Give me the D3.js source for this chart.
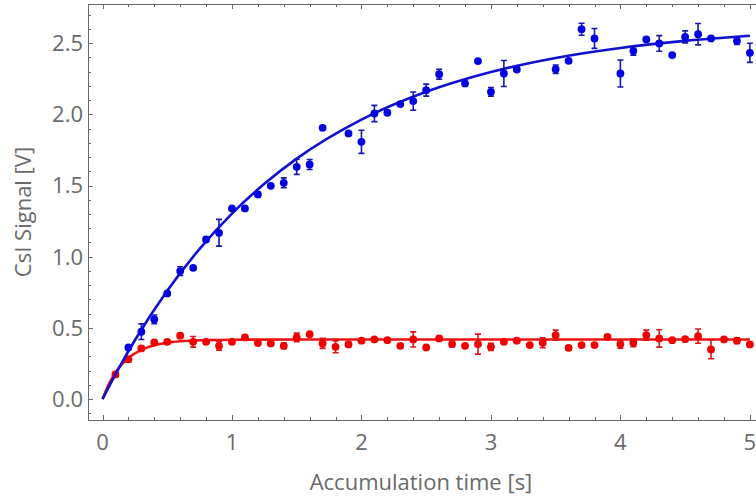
<!DOCTYPE html>
<html><head><meta charset="utf-8">
<script src="https://cdn.jsdelivr.net/npm/d3@7"></script>
<style>html,body{margin:0;padding:0;background:#fff;}svg{display:block;}</style>
</head><body>
<svg id="chart" width="756" height="503"></svg>
<script>
// ---- data ----
const blueTime = [0.2,0.3,0.4,0.5,0.6,0.7,0.8,0.9,1.0,1.1,1.2,1.3,1.4,1.5,1.6,1.7,1.9,2.0,2.1,2.2,2.3,2.4,2.5,2.6,2.8,2.9,3.0,3.1,3.2,3.5,3.6,3.7,3.8,4.0,4.1,4.2,4.3,4.4,4.5,4.6,4.7,4.9,5.0];
const blueSignal = [0.363,0.473,0.56,0.742,0.899,0.922,1.121,1.168,1.339,1.339,1.437,1.498,1.519,1.631,1.648,1.905,1.866,1.807,2.006,2.011,2.072,2.093,2.17,2.282,2.217,2.374,2.158,2.287,2.315,2.317,2.376,2.598,2.533,2.287,2.446,2.526,2.498,2.416,2.544,2.563,2.533,2.516,2.432];
const blueError = [0.01,0.055,0.03,0.01,0.03,0.01,0.01,0.094,0.01,0.01,0.015,0.01,0.035,0.053,0.035,0.01,0.01,0.081,0.057,0.01,0.01,0.064,0.042,0.035,0.01,0.01,0.03,0.091,0.01,0.03,0.01,0.042,0.07,0.095,0.03,0.01,0.055,0.01,0.042,0.075,0.01,0.025,0.067];

const redTime = [0.1,0.2,0.3,0.4,0.5,0.6,0.7,0.8,0.9,1.0,1.1,1.2,1.3,1.4,1.5,1.6,1.7,1.8,1.9,2.0,2.1,2.2,2.3,2.4,2.5,2.6,2.7,2.8,2.9,3.0,3.1,3.2,3.3,3.4,3.5,3.6,3.7,3.8,3.9,4.0,4.1,4.2,4.3,4.4,4.5,4.6,4.7,4.8,4.9,5.0];
const redSignal = [0.173,0.279,0.356,0.398,0.402,0.445,0.402,0.402,0.374,0.402,0.433,0.393,0.391,0.374,0.433,0.456,0.391,0.367,0.384,0.41,0.419,0.414,0.374,0.419,0.363,0.426,0.386,0.374,0.386,0.367,0.402,0.41,0.379,0.395,0.449,0.36,0.379,0.379,0.437,0.386,0.395,0.449,0.426,0.414,0.421,0.442,0.349,0.419,0.41,0.384];
const redError = [0.015,0.02,0.01,0.01,0.01,0.015,0.037,0.01,0.03,0.01,0.015,0.01,0.01,0.02,0.03,0.01,0.035,0.042,0.015,0.01,0.01,0.01,0.01,0.053,0.01,0.01,0.02,0.01,0.07,0.025,0.01,0.01,0.01,0.035,0.035,0.015,0.01,0.01,0.015,0.028,0.028,0.035,0.061,0.01,0.01,0.05,0.066,0.01,0.02,0.01];

// fitted curves
const blueFitTime = [0,0.05,0.1,0.15,0.25,0.5,0.75,1,1.25,1.5,2,2.5,3,3.5,4,4.5,5];
const blueFitSignal = [0,0.088,0.173,0.256,0.413,0.761,1.055,1.303,1.512,1.689,1.963,2.158,2.297,2.396,2.466,2.516,2.552];
const redFitTime = [0,0.05,0.1,0.15,0.2,0.3,0.4,0.5,0.6,0.8,1.0,1.5,5];
const redFitSignal = [0,0.107,0.186,0.245,0.289,0.346,0.378,0.396,0.406,0.414,0.417,0.418,0.418];

const xMajorTicks = [0,1,2,3,4,5];
const xTickLabels = ["0","1","2","3","4","5"];
const yMajorTicks = [0,0.5,1,1.5,2,2.5];
const yTickLabels = ["0.0","0.5","1.0","1.5","2.0","2.5"];
const xTitle = "Accumulation time [s]";
const yTitle = "CsI Signal [V]";

// ---- drawing ----
const svg = d3.select("#chart");
const font = "'Open Sans', 'DejaVu Sans', sans-serif";
const grey = "#6a6a6a";
const x = d3.scaleLinear().domain([-0.112, 5.055]).range([88, 757]);
const y = d3.scaleLinear().domain([-0.147, 2.775]).range([420, 4]);

const xMinor = d3.range(0, 5.01, 0.2).map(v => +v.toFixed(1)).filter(v => !xMajorTicks.includes(v));
const yMinor = d3.range(-0.1, 2.751, 0.1).map(v => +v.toFixed(1)).filter(v => !yMajorTicks.includes(v));

// frame
const [x0, x1] = x.range(), [y0, y1] = y.range();
svg.append("rect").attr("x", x0 + 0.5).attr("y", y1 + 0.5)
  .attr("width", x1 - x0).attr("height", y0 - y1)
  .attr("fill", "none").attr("stroke", grey).attr("stroke-width", 1);

const ticks = svg.append("g").attr("stroke", grey).attr("stroke-width", 1);
function xt(vals, len) {
  vals.forEach(v => {
    const px = Math.round(x(v)) + 0.5;
    ticks.append("line").attr("x1", px).attr("x2", px).attr("y1", y0).attr("y2", y0 - len);
    ticks.append("line").attr("x1", px).attr("x2", px).attr("y1", y1).attr("y2", y1 + len);
  });
}
function yt(vals, len) {
  vals.forEach(v => {
    const py = Math.round(y(v)) + 0.5;
    ticks.append("line").attr("x1", x0).attr("x2", x0 + len).attr("y1", py).attr("y2", py);
  });
}
xt(xMajorTicks, 5); xt(xMinor, 3);
yt(yMajorTicks, 5); yt(yMinor, 3);

// tick labels
svg.append("g").selectAll("text").data(xMajorTicks).join("text")
  .attr("x", d => x(d)).attr("y", 450).attr("text-anchor", "middle")
  .attr("font-family", font).attr("font-size", 22).attr("fill", grey)
  .text((d, i) => xTickLabels[i]);
svg.append("g").selectAll("text").data(yMajorTicks).join("text")
  .attr("x", 83).attr("y", d => y(d)).attr("dy", "0.36em").attr("text-anchor", "end")
  .attr("font-family", font).attr("font-size", 22).attr("fill", grey)
  .text((d, i) => yTickLabels[i]);

// titles
svg.append("text").attr("x", 421).attr("y", 490).attr("text-anchor", "middle")
  .attr("font-family", font).attr("font-size", 22).attr("fill", grey).text(xTitle);
svg.append("text").attr("transform", "translate(31,212) rotate(-90)").attr("text-anchor", "middle")
  .attr("font-family", font).attr("font-size", 22).attr("fill", grey).text(yTitle);

// plot
const plot = svg.append("g");
const line = d3.line().x(d => x(d[0])).y(d => y(d[1])).curve(d3.curveMonotoneX);

function series(times, vals, errs, fitT, fitV, ptColor, lineColor, barColor) {
  plot.append("path").datum(fitT.map((t, i) => [t, fitV[i]]))
    .attr("d", line).attr("fill", "none").attr("stroke", lineColor).attr("stroke-width", 2.6);
  const g = plot.append("g");
  const pts = times.map((t, i) => ({t, v: vals[i], e: errs[i]}));
  g.selectAll(".eb").data(pts).join("path")
    .attr("d", d => {
      const cx = x(d.t), ya = y(d.v - d.e), yb = y(d.v + d.e);
      return `M${cx},${ya}V${yb}M${cx - 3},${ya}H${cx + 3}M${cx - 3},${yb}H${cx + 3}`;
    })
    .attr("fill", "none").attr("stroke", barColor).attr("stroke-width", 1.6);
  g.selectAll("circle").data(pts).join("circle")
    .attr("cx", d => x(d.t)).attr("cy", d => y(d.v)).attr("r", 3.9).attr("fill", ptColor);
}
series(redTime, redSignal, redError, redFitTime, redFitSignal, "#f00000", "#ee1111", "#d81818");
series(blueTime, blueSignal, blueError, blueFitTime, blueFitSignal, "#0000e0", "#1010d0", "#1818b0");
</script>
</body></html>
